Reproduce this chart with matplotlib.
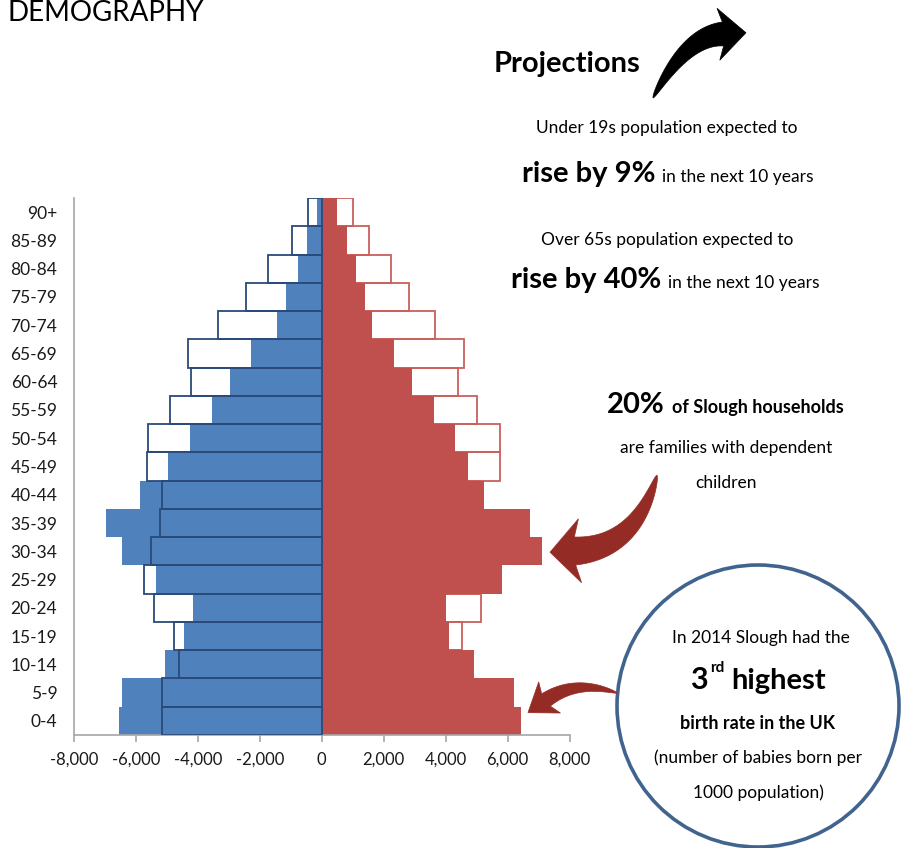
import matplotlib
matplotlib.use("Agg")
import matplotlib.pyplot as plt
import numpy as np
from matplotlib.patches import Circle, Polygon

# Age bands, bottom to top
age_bands = ["0-4", "5-9", "10-14", "15-19", "20-24", "25-29", "30-34", "35-39",
             "40-44", "45-49", "50-54", "55-59", "60-64", "65-69", "70-74",
             "75-79", "80-84", "85-89", "90+"]

# Slough population (filled bars)
males = [6560, 6460, 5065, 4460, 4160, 5365, 6460, 6970, 5870, 4980,
         4270, 3560, 2960, 2270, 1450, 1160, 765, 484, 160]
females = [6430, 6210, 4920, 4105, 4020, 5815, 7120, 6720, 5235, 4720,
           4310, 3620, 2920, 2330, 1620, 1410, 1110, 810, 490]

# Comparison profile (outlined bars)
males_cmp = [5160, 5160, 4600, 4785, 5410, 5730, 5515, 5215, 5160, 5645,
             5620, 4900, 4225, 4330, 3355, 2450, 1730, 945, 450]
females_cmp = [4900, 4900, 4500, 4525, 5140, 5100, 5300, 5200, 5100, 5770,
               5770, 5005, 4395, 4580, 3660, 2830, 2230, 1510, 995]

x_ticks = [-8000, -6000, -4000, -2000, 0, 2000, 4000, 6000, 8000]

W, H = 901, 848
FONT = "Lato"
plt.rcParams["font.family"] = [FONT, "DejaVu Sans"]

fig = plt.figure(figsize=(W / 100, H / 100), dpi=100)
fig.patch.set_facecolor("white")

# Pyramid axes
ax = fig.add_axes([74 / W, 1 - 735 / H, (569.5 - 74) / W, (735 - 198) / H])
y = list(range(len(age_bands)))
blue, red = "#4F81BD", "#C0504D"
ax.barh(y, females_cmp, height=1.0, facecolor="none",
        edgecolor="#C9605C", linewidth=1.3, zorder=1)
ax.barh(y, [-v for v in males], height=1.0, color=blue, linewidth=0, zorder=2)
ax.barh(y, females, height=1.0, color=red, linewidth=0, zorder=2)
ax.barh(y, [-v for v in males_cmp], height=1.0, facecolor="none",
        edgecolor="#2A4A7A", linewidth=1.3, zorder=3)

ax.set_xlim(-8000, 8000)
ax.set_ylim(-0.5, len(age_bands) - 0.5)
ax.set_yticks(y)
ax.set_yticklabels(age_bands)
ax.set_xticks(x_ticks)
ax.set_xticklabels([f"{v:,}" for v in x_ticks])
for s in ("top", "right"):
    ax.spines[s].set_visible(False)
for s in ("left", "bottom"):
    ax.spines[s].set_color("#A6A6A6")
    ax.spines[s].set_linewidth(1.2)
ax.tick_params(axis="y", length=0, pad=12, labelsize=12.5, labelcolor="#1a1a1a")
ax.tick_params(axis="x", length=5, width=1.2, color="#A6A6A6", pad=7,
               labelsize=12, labelcolor="#1a1a1a")

# Overlay in pixel coordinates for annotations
ov = fig.add_axes([0, 0, 1, 1])
ov.set_xlim(0, W)
ov.set_ylim(H, 0)
ov.axis("off")
ov.patch.set_alpha(0)

def t(x, yb, s, size, weight="normal", ha="center"):
    ov.text(x, yb, s, fontsize=size, fontweight=weight, ha=ha, va="baseline",
            color="black", family=[FONT, "DejaVu Sans"])

def curved_arrow(p0, ctrl, base, tail_w, head_w, head_len, color):
    """Tapered arrow along a quadratic Bezier from p0 to the head base."""
    p0, ctrl, base = (np.asarray(p, float) for p in (p0, ctrl, base))
    s = np.linspace(0, 1, 80)[:, None]
    pts = (1 - s) ** 2 * p0 + 2 * (1 - s) * s * ctrl + s ** 2 * base
    d = 2 * (1 - s) * (ctrl - p0) + 2 * s * (base - ctrl)
    tang = d / np.linalg.norm(d, axis=1, keepdims=True)
    nrm = np.column_stack([-tang[:, 1], tang[:, 0]])
    half = tail_w / 2 * s ** 0.6
    left = pts + nrm * half
    right = pts - nrm * half
    tg, nm = tang[-1], nrm[-1]
    back = base - tg * head_len * 0.2
    tip = base + tg * head_len
    head = [back + nm * head_w / 2, tip, back - nm * head_w / 2]
    poly = np.vstack([left, head, right[::-1]])
    ov.add_patch(Polygon(poly, closed=True, facecolor=color, edgecolor=color,
                         linewidth=0.5, zorder=5))

t(8, 21, "DEMOGRAPHY", 20, ha="left")
t(567, 72, "Projections", 21, weight="bold")

t(667, 133, "Under 19s population expected to", 12.5)
t(656, 182, "rise by 9%", 21, weight="bold", ha="right")
t(662, 182, "in the next 10 years", 12.5, ha="left")
t(667, 245, "Over 65s population expected to", 12.5)
t(661, 288, "rise by 40%", 21, weight="bold", ha="right")
t(668, 288, "in the next 10 years", 12.5, ha="left")

t(665, 413, "20%", 21, weight="bold", ha="right")
t(672, 413, "of Slough households", 13, weight="bold", ha="left")
t(726, 453, "are families with dependent", 12.5)
t(726, 488, "children", 12.5)

# Birth-rate callout circle
ov.add_patch(Circle((758, 706), 141, facecolor="none", edgecolor="#41648F",
                    linewidth=2.6, zorder=4))
t(761, 643, "In 2014 Slough had the", 12.5)
t(708, 689, "3", 22, weight="bold", ha="right")
t(710, 672, "rd", 11, weight="bold", ha="left")
t(826, 689, "highest", 21, weight="bold", ha="right")
t(758, 729, "birth rate in the UK", 13, weight="bold")
t(758, 763, "(number of babies born per", 12.5)
t(758, 798, "1000 population)", 12.5)

# Curved arrows
curved_arrow((653, 98), (686, 36), (723, 34), 24, 52, 23, "black")
curved_arrow((657, 475), (636, 548), (575, 551), 28, 64, 25, "#952B25")
curved_arrow((617, 693), (576, 679), (546, 700), 15, 38, 22, "#952B25")

fig.savefig("out.png", dpi=100, facecolor="white")
